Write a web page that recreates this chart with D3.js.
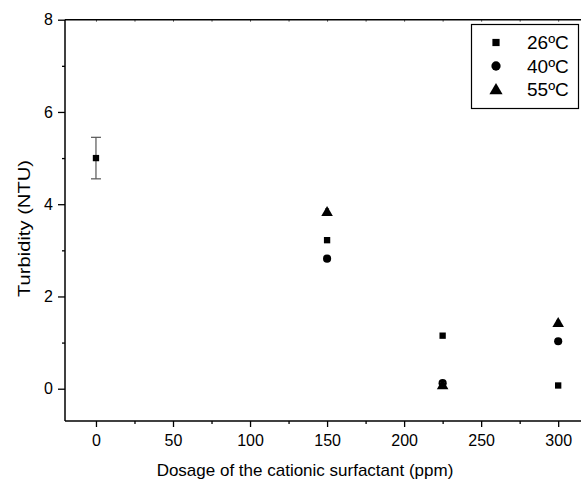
<!DOCTYPE html>
<html><head><meta charset="utf-8">
<script src="https://cdn.jsdelivr.net/npm/d3@7"></script>
<style>body{margin:0;background:#fff}svg{display:block}text{font-family:Arial,"Liberation Sans",sans-serif;fill:#000}</style>
</head><body>
<svg id="c" width="581" height="482"></svg>
<script>
const dosage = [0, 150, 225, 300];
const series = ["26ºC", "40ºC", "55ºC"];
const t26 = [5.0, 3.22, 1.15, 0.07];
const t40 = [null, 2.82, 0.12, 1.03];
const t55 = [null, 3.84, 0.08, 1.43];
const err26 = [0.45, 0.04, 0.04, 0.04];
const err40 = [null, 0.04, 0.04, 0.04];
const err55 = [null, 0.06, 0.05, 0.05];
const xTicks = [0, 50, 100, 150, 200, 250, 300];
const yTicks = [0, 2, 4, 6, 8];

const svg = d3.select("#c");
const L = 65, T = 19.7, B = 421, R = 589;
const x = d3.scaleLinear().domain([-20.1, 320]).range([L, R]);
const y = d3.scaleLinear().domain([-0.7, 8]).range([B, T]);

const xMinor = d3.range(-25, 325, 25).filter(v => v >= -20 && v <= 320 && v % 50 !== 0);
const yMinor = [1, 3, 5, 7];
const TF = 16, AF = 17;

const g = svg.append("g");
g.append("g").attr("transform", `translate(0,${B})`)
  .call(d3.axisBottom(x).tickValues(xTicks).tickSize(6).tickPadding(5).tickFormat(d3.format("d")))
  .call(a => a.select(".domain").remove())
  .call(a => a.selectAll("text").attr("font-size", TF).attr("dy", "0.88em"))
  .call(a => a.selectAll("line").attr("stroke-width", 1.3));
g.append("g").attr("transform", `translate(0,${B})`)
  .call(d3.axisBottom(x).tickValues(xMinor).tickSize(3).tickFormat(""))
  .call(a => a.select(".domain").remove())
  .call(a => a.selectAll("line").attr("stroke-width", 1.3));
g.append("g").attr("transform", `translate(${L},0)`)
  .call(d3.axisLeft(y).tickValues(yTicks).tickSize(7).tickPadding(5).tickFormat(d3.format("d")))
  .call(a => a.select(".domain").remove())
  .call(a => a.selectAll("text").attr("font-size", TF))
  .call(a => a.selectAll("line").attr("stroke-width", 1.3));
g.append("g").attr("transform", `translate(${L},0)`)
  .call(d3.axisLeft(y).tickValues(yMinor).tickSize(3).tickFormat(""))
  .call(a => a.select(".domain").remove())
  .call(a => a.selectAll("line").attr("stroke-width", 1.3));
g.append("g").attr("transform", `translate(0,${T})`)
  .call(d3.axisTop(x).tickValues(xTicks.concat(xMinor)).tickSize(-2).tickFormat(""))
  .call(a => a.select(".domain").remove())
  .call(a => a.selectAll("line").attr("stroke", "#555"));
g.append("line").attr("x1", L).attr("x2", 581).attr("y1", B).attr("y2", B).attr("stroke", "#000").attr("stroke-width", 1.5);
g.append("line").attr("x1", L).attr("x2", 581).attr("y1", T).attr("y2", T).attr("stroke", "#000").attr("stroke-width", 1.5);
g.append("line").attr("x1", L).attr("x2", L).attr("y1", T).attr("y2", B).attr("stroke", "#000").attr("stroke-width", 1.5);

svg.append("text").attr("x", 305).attr("y", 476).attr("text-anchor", "middle").attr("font-size", AF)
  .text("Dosage of the cationic surfactant (ppm)");
svg.append("text").attr("transform", `translate(30,228.5) rotate(-90)`).attr("text-anchor", "middle").attr("font-size", AF)
  .attr("textLength", 137).attr("lengthAdjust", "spacingAndGlyphs")
  .text("Turbidity (NTU)");

const shapes = [d3.symbolSquare, d3.symbolCircle, d3.symbolTriangle];
const sizes = [40, 52, 58];
const vals = [t26, t40, t55];
const errs = [err26, err40, err55];

vals.forEach((vs, si) => {
  const pts = dosage.map((d, i) => ({d, v: vs[i], e: errs[si][i]})).filter(p => p.v != null);
  const eg = svg.append("g").attr("stroke", "#555").attr("stroke-width", 1.2);
  pts.forEach(p => {
    eg.append("line").attr("x1", x(p.d)).attr("x2", x(p.d)).attr("y1", y(p.v - p.e)).attr("y2", y(p.v + p.e));
    const cw = p.e > 0.2 ? 5 : 2;
    [p.v - p.e, p.v + p.e].forEach(ev => eg.append("line").attr("x1", x(p.d) - cw).attr("x2", x(p.d) + cw).attr("y1", y(ev)).attr("y2", y(ev)));
  });
  svg.append("g").selectAll("path").data(pts).join("path")
    .attr("transform", p => `translate(${x(p.d)},${y(p.v) + (si === 2 ? 1 : 0)})`)
    .attr("d", d3.symbol(shapes[si], sizes[si])).attr("fill", "#000");
});

const lg = svg.append("g");
lg.append("rect").attr("x", 471.5).attr("y", 24.5).attr("width", 107).attr("height", 84).attr("fill", "#fff").attr("stroke", "#000").attr("stroke-width", 1.2);
series.forEach((s, i) => {
  const yy = 42.5 + i * 23.5;
  lg.append("path").attr("transform", `translate(496,${yy + (i === 2 ? 1 : 0)})`).attr("d", d3.symbol(shapes[i], sizes[i] * 1.3)).attr("fill", "#000");
  lg.append("text").attr("x", 527).attr("y", yy + 6.8).attr("font-size", 19).text(s);
});
</script>
</body></html>
